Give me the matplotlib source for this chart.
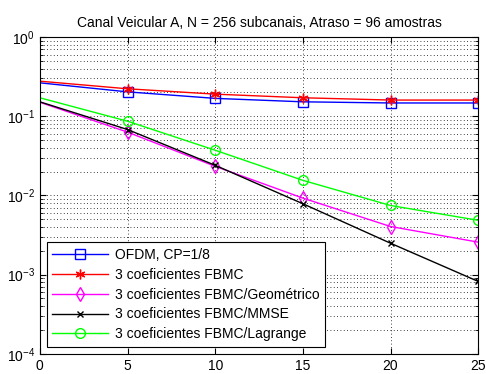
import matplotlib
matplotlib.use("Agg")
import matplotlib.pyplot as plt
from matplotlib.ticker import LogLocator, NullFormatter

plt.rcParams["font.family"] = ["Liberation Sans", "DejaVu Sans"]

snr = [0, 5, 10, 15, 20, 25]
ofdm = [0.264, 0.203, 0.168, 0.152, 0.147, 0.147]
fbmc = [0.277, 0.222, 0.190, 0.171, 0.160, 0.160]
fbmc_geo = [0.150, 0.063, 0.0233, 0.00925, 0.00405, 0.00257]
fbmc_mmse = [0.152, 0.0679, 0.0240, 0.00785, 0.00249, 0.00082]
fbmc_lag = [0.171, 0.0865, 0.0372, 0.0155, 0.00746, 0.00485]

labels = ["OFDM, CP=1/8", "3 coeficientes FBMC", "3 coeficientes FBMC/Geométrico",
          "3 coeficientes FBMC/MMSE", "3 coeficientes FBMC/Lagrange"]

fig = plt.figure(figsize=(4.86, 3.74), dpi=100)
ax = fig.add_axes([0.082, 0.054, 0.902, 0.847])

mk = list(range(1, len(snr)))
ax.semilogy(snr, ofdm, "-s", color="#0000ff", mfc="none", ms=7, lw=1, markevery=mk, label=labels[0])
ax.semilogy(snr, fbmc, "-", marker=(6, 2, 0), color="#ff0000", ms=7, lw=1, markevery=mk, label=labels[1])
ax.semilogy(snr, fbmc_geo, "-d", color="#ff00ff", mfc="none", ms=7, lw=1, markevery=mk, label=labels[2])
ax.semilogy(snr, fbmc_mmse, "-x", color="#000000", ms=4, lw=1, markevery=mk, label=labels[3])
ax.semilogy(snr, fbmc_lag, "-o", color="#00ff00", mfc="none", ms=7, lw=1, markevery=mk, label=labels[4])

ax.set_xlim(0, 25)
ax.set_ylim(1e-4, 1)
ax.set_xticks([0, 5, 10, 15, 20, 25])
ax.yaxis.set_major_locator(LogLocator(base=10, numticks=10))
ax.yaxis.set_minor_locator(LogLocator(base=10, subs=range(2, 10), numticks=10))
ax.yaxis.set_minor_formatter(NullFormatter())
ax.tick_params(which="both", direction="in", top=True, right=True, labelsize=10)
ax.tick_params(which="major", length=4)
ax.tick_params(which="minor", length=2)
ax.grid(True, which="major", ls=(0, (1, 3)), color="black", lw=0.6)
ax.grid(True, which="minor", axis="y", ls=(0, (1, 3)), color="black", lw=0.6)
for s in ax.spines.values():
    s.set_linewidth(0.8)

ax.set_title("Canal Veicular A, N = 256 subcanais, Atraso = 96 amostras", fontsize=10, pad=7)

leg = ax.legend(loc="lower left", fontsize=10, handlelength=4, fancybox=False,
                edgecolor="black", framealpha=1, borderaxespad=0.5, labelspacing=0.42,
                borderpad=0.4, handletextpad=0.5)
leg.get_frame().set_linewidth(0.8)

fig.savefig("out.png", dpi=100)
